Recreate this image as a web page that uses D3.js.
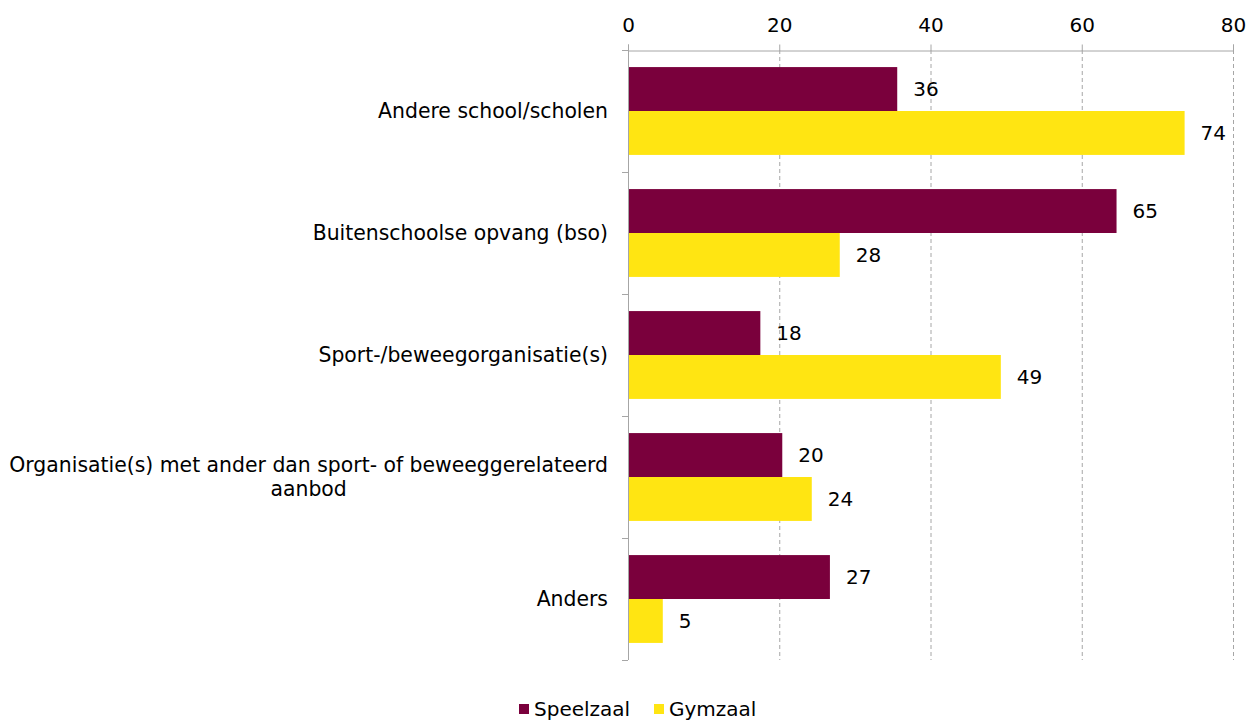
<!DOCTYPE html>
<html><head><meta charset="utf-8">
<script src="https://cdn.jsdelivr.net/npm/d3@7"></script>
<style>body{margin:0;background:#fff;}svg{display:block;font-family:"DejaVu Sans",sans-serif;}</style>
</head><body><svg id="c" width="1258" height="724"></svg>
<script>
const categories = ["Andere school/scholen","Buitenschoolse opvang (bso)","Sport-/beweegorganisatie(s)","Organisatie(s) met ander dan sport- of beweeggerelateerd aanbod","Anders"];
const categoryLines = [["Andere school/scholen"],["Buitenschoolse opvang (bso)"],["Sport-/beweegorganisatie(s)"],["Organisatie(s) met ander dan sport- of beweeggerelateerd","aanbod"],["Anders"]];
const seriesNames = ["Speelzaal","Gymzaal"];
const speelzaal = [35.6, 64.6, 17.5, 20.4, 26.7];
const gymzaal = [73.6, 28.0, 49.3, 24.3, 4.6];
const ticks = [0,20,40,60,80];
const colors = ["#7a003c","#ffe512"];

(function(){
const svg = d3.select("#c");
const fs = 20;
const mLeft = 628, mRight = 1233, mTop = 50, mBottom = 660;
const x = d3.scaleLinear().domain([0,80]).range([mLeft,mRight]);
const y = d3.scaleBand().domain(categories).range([mTop,mBottom]).paddingInner(0.28).paddingOuter(0.14);
const sub = d3.scaleBand().domain(seriesNames).range([0,y.bandwidth()]);
const yb = d3.scaleBand().domain(categories).range([mTop,mBottom]);

svg.append("g").selectAll("line").data(ticks.slice(1)).join("line")
  .attr("x1",d=>x(d)+0.5).attr("x2",d=>x(d)+0.5).attr("y1",mTop).attr("y2",mBottom)
  .attr("stroke","#a6a6a6").attr("stroke-dasharray","4,3");

const ax = svg.append("g").attr("transform",`translate(0,${mTop+0.5})`)
  .call(d3.axisTop(x).tickValues(ticks).tickSize(6).tickPadding(13));
ax.select(".domain").attr("stroke","#a6a6a6");
ax.selectAll(".tick line").attr("stroke","#a6a6a6");
ax.selectAll(".tick text").attr("font-size",fs).attr("fill","#000").attr("font-family","DejaVu Sans");

const bounds = categories.map(c=>yb(c)).concat([mBottom]);
svg.append("line").attr("x1",mLeft+0.5).attr("x2",mLeft+0.5).attr("y1",mTop).attr("y2",mBottom).attr("stroke","#a6a6a6");
svg.append("g").selectAll("line").data(bounds).join("line")
  .attr("x1",mLeft-6).attr("x2",mLeft).attr("y1",d=>d+0.5).attr("y2",d=>d+0.5).attr("stroke","#a6a6a6");

const data = [speelzaal, gymzaal];
data.forEach((vals,si)=>{
  const g = svg.append("g");
  g.selectAll("rect").data(vals).join("rect")
    .attr("x",x(0)+1).attr("y",(d,i)=>y(categories[i])+sub(seriesNames[si]))
    .attr("width",d=>x(d)-x(0)-1).attr("height",sub.bandwidth())
    .attr("fill",colors[si]);
  g.selectAll("text").data(vals).join("text")
    .attr("x",d=>x(d)+16).attr("y",(d,i)=>y(categories[i])+sub(seriesNames[si])+sub.bandwidth()/2)
    .attr("dy","0.35em").attr("font-size",fs).text(d=>Math.round(d));
});

categoryLines.forEach((lines,i)=>{
  const cy = yb(categories[i]) + yb.bandwidth()/2;
  const g = svg.append("g");
  const lh = 24;
  const ts = lines.map((l,k)=>g.append("text").attr("font-size",20.4).attr("text-anchor","middle")
      .attr("y", cy + (k-(lines.length-1)/2)*lh).attr("dy","0.35em").text(l));
  const w = d3.max(ts, t=>t.node().getComputedTextLength());
  ts.forEach(t=>t.attr("x", 608 - w/2));
});

const lg = svg.append("g").attr("transform","translate(0,709)");
const lx = [519, 654];
seriesNames.forEach((s,i)=>{
  lg.append("rect").attr("x",lx[i]).attr("y",-5).attr("width",10).attr("height",10).attr("fill",colors[i]);
  lg.append("text").attr("x",lx[i]+15).attr("y",0).attr("dy","0.35em").attr("font-size",fs).text(s);
});
})();
</script></body></html>
